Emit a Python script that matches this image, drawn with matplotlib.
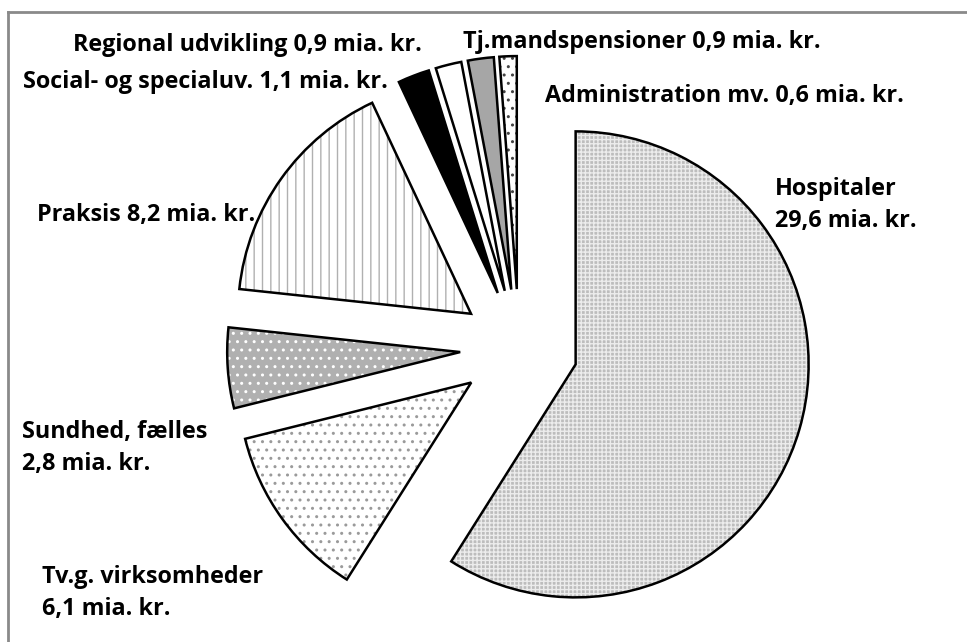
import matplotlib.pyplot as plt
from matplotlib.lines import Line2D

# Data (mia. kr.)
names = ['Hospitaler', 'Tv.g. virksomheder', 'Sundhed, fælles', 'Praksis',
         'Social- og specialuv.', 'Regional udvikling', 'Tj.mandspensioner',
         'Administration mv.']
values = [29.6, 6.1, 2.8, 8.2, 1.1, 0.9, 0.9, 0.6]
label_texts = ['Hospitaler\n29,6 mia. kr.', 'Tv.g. virksomheder\n6,1 mia. kr.',
               'Sundhed, fælles\n2,8 mia. kr.', 'Praksis 8,2 mia. kr.',
               'Social- og specialuv. 1,1 mia. kr.', 'Regional udvikling 0,9 mia. kr.',
               'Tj.mandspensioner 0,9 mia. kr.', 'Administration mv. 0,6 mia. kr.']

# fill / hatch per slice
faces   = ['#bdbdbd', 'white', '#b0b0b0', 'white', 'black', 'white', '#a6a6a6', 'white']
hatches = ['++++', '..', '..', '||', None, None, None, '..']
hcolors = ['#ececec', '#9a9a9a', '#ffffff', '#b0b0b0', 'black', 'white', '#a6a6a6', '#444444']

W, H = 967, 642
fig = plt.figure(figsize=(W / 100, H / 100), dpi=100)
ax = fig.add_axes([0, 0, 1, 1])

plt.rcParams['hatch.linewidth'] = 1.0
explode = [0.253] * len(values)

# hatched fills
wedges, _ = ax.pie(values, explode=explode, startangle=90, counterclock=False,
                   radius=1, frame=False)
for w, fc, h, hc in zip(wedges, faces, hatches, hcolors):
    w.set_facecolor(fc)
    w.set_edgecolor(hc)
    w.set_linewidth(0)
    if h:
        w.set_hatch(h)

# black outlines
outl, _ = ax.pie(values, explode=explode, startangle=90, counterclock=False,
                 radius=1, frame=False,
                 wedgeprops=dict(facecolor='none', edgecolor='black', linewidth=1.8))

# pie centre at (519, 348) px, radius 233 px
cx, cy, r = 519, 348, 233
ax.set_xlim(-cx / r, (W - cx) / r)
ax.set_ylim(-(H - cy) / r, cy / r)
ax.set_aspect('equal')
ax.axis('off')

font = dict(family=['Open Sans', 'DejaVu Sans'], fontweight='bold', fontsize=16.8,
            color='black', linespacing=1.42)
pos = [(775, 205), (42, 593), (22, 448), (37, 215), (23, 82), (73, 45), (463, 42), (545, 96)]
for (x, y), t in zip(pos, label_texts):
    fig.text(x / W, 1 - y / H, t, ha='left', va='center', **font)

# frame lines (top and left)
fig.add_artist(Line2D([8 / W, 1], [1 - 12 / H, 1 - 12 / H], transform=fig.transFigure,
                      color='#8a8a8a', linewidth=2))
fig.add_artist(Line2D([8 / W, 8 / W], [0, 1 - 12 / H], transform=fig.transFigure,
                      color='#8a8a8a', linewidth=2))

fig.savefig('out.png', dpi=100, facecolor='white')
